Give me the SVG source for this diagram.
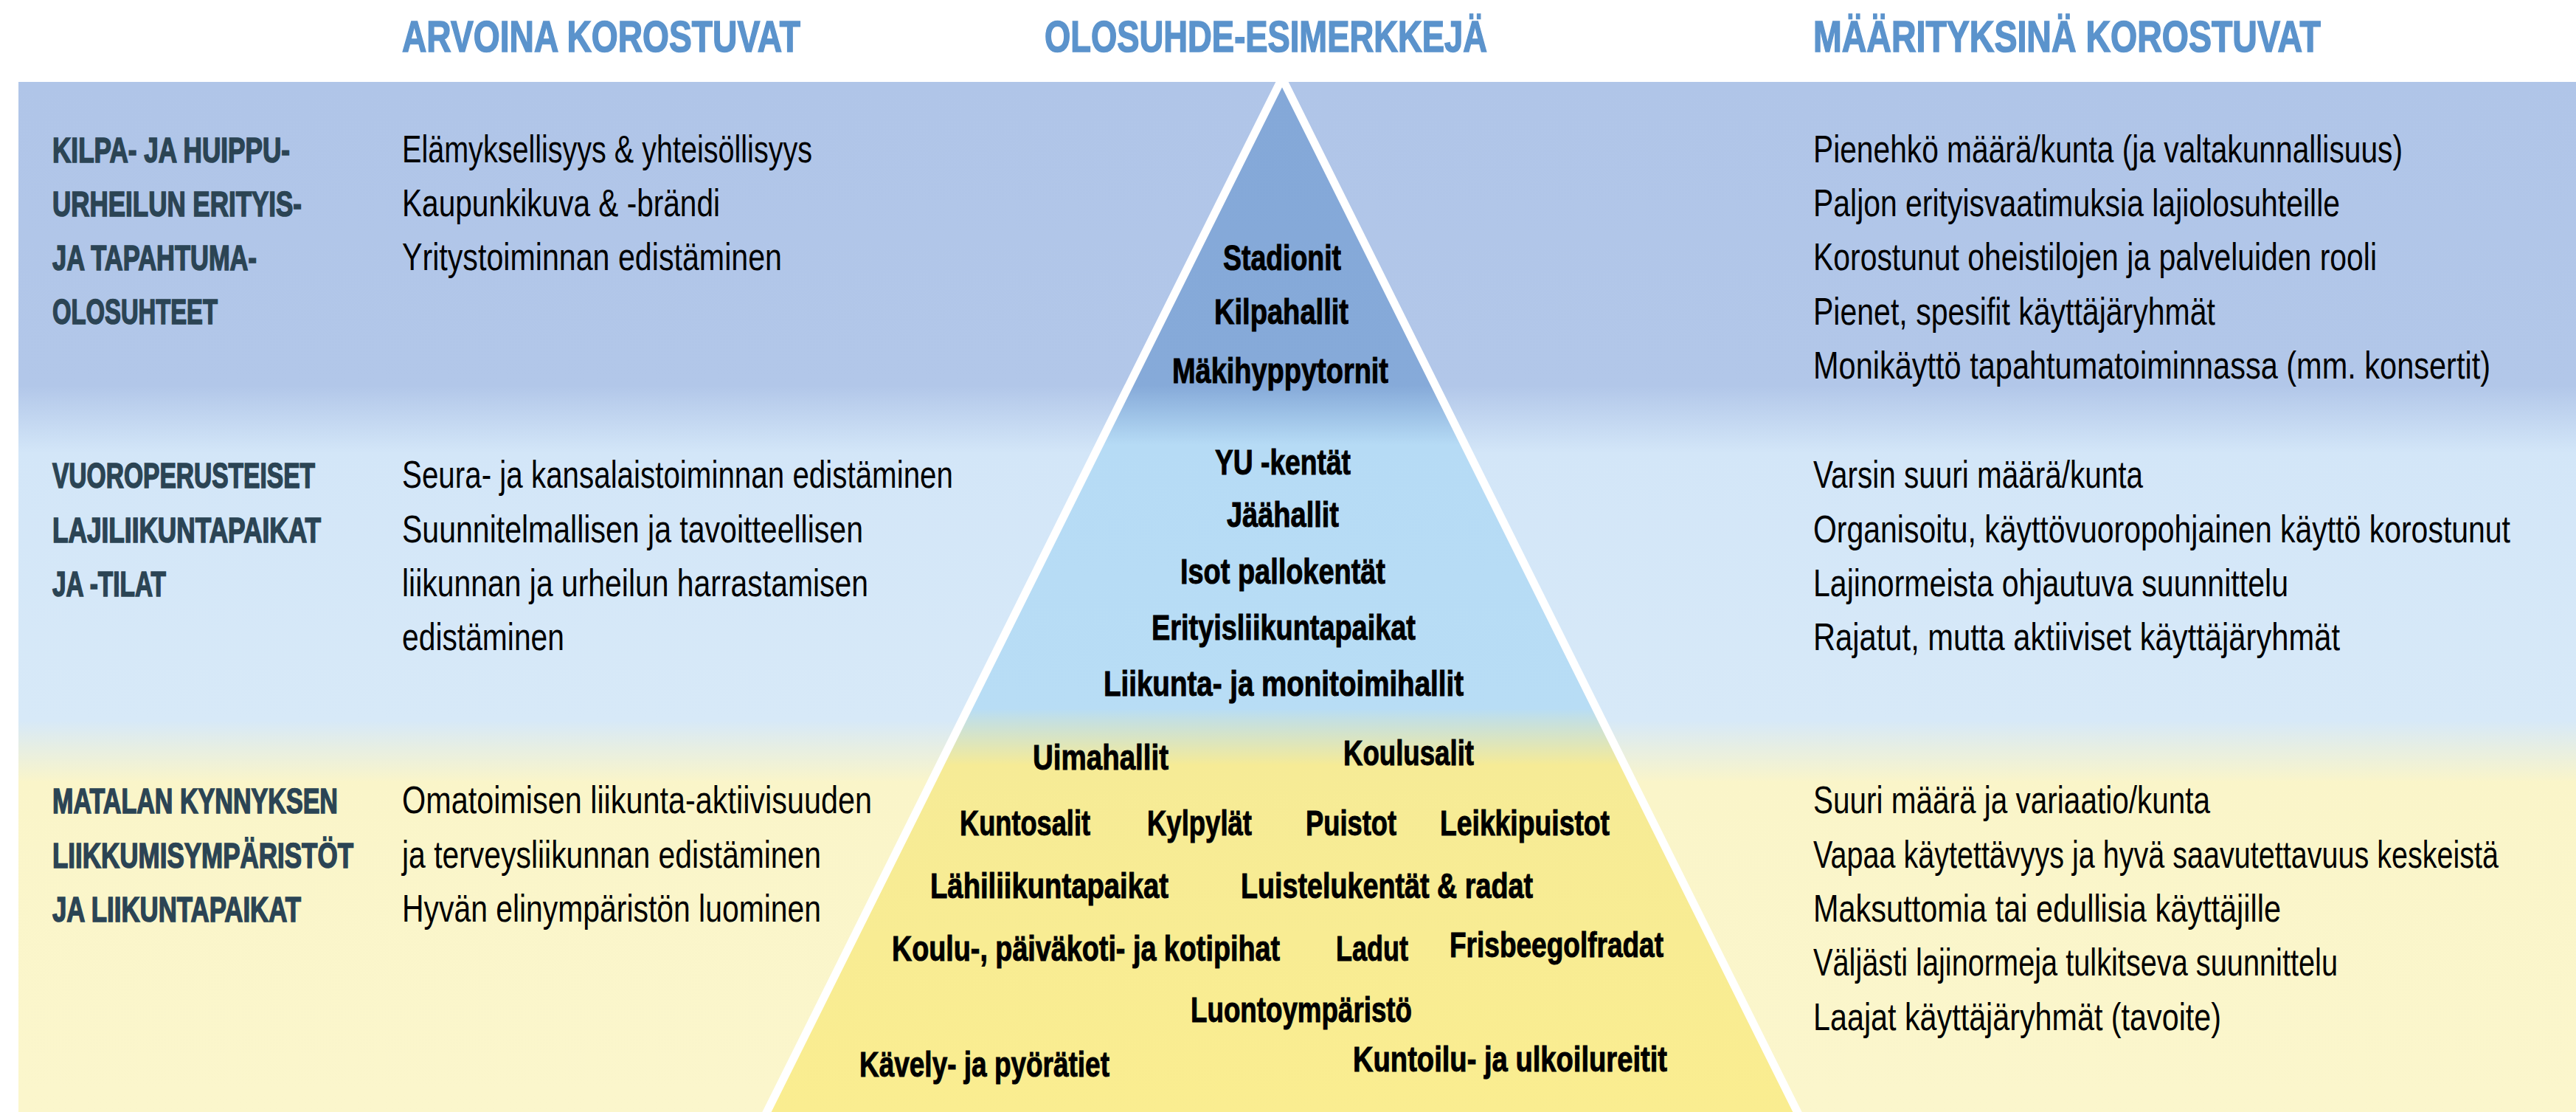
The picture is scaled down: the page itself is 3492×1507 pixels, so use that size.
<svg xmlns="http://www.w3.org/2000/svg" width="3492" height="1507" viewBox="0 0 3492 1507">
<defs>
<linearGradient id="bg" gradientUnits="userSpaceOnUse" x1="0" y1="111" x2="0" y2="1507">
<stop offset="0" stop-color="#b0c5e8"/>
<stop offset="0.295" stop-color="#b2c7e9"/>
<stop offset="0.36" stop-color="#d3e6f8"/>
<stop offset="0.62" stop-color="#d7e9f8"/>
<stop offset="0.68" stop-color="#faf5c9"/>
<stop offset="1" stop-color="#fbf6cc"/>
</linearGradient>
<linearGradient id="tri" gradientUnits="userSpaceOnUse" x1="0" y1="105" x2="0" y2="1507">
<stop offset="0" stop-color="#84a8d8"/>
<stop offset="0.298" stop-color="#86aad9"/>
<stop offset="0.355" stop-color="#b6dbf5"/>
<stop offset="0.61" stop-color="#b8ddf5"/>
<stop offset="0.665" stop-color="#f6eb96"/>
<stop offset="1" stop-color="#faed90"/>
</linearGradient>
<style>
.t{font-family:"Liberation Sans",Arial,sans-serif}
.h{font-size:45.5px;font-weight:bold;fill:#5b93cc;stroke:#5b93cc;stroke-width:1.2px}
.l{font-size:35px;font-weight:bold;fill:#2b4454;stroke:#2b4454;stroke-width:1.2px}
.r{font-size:39.5px;fill:#000}
.p{font-size:38.5px;font-weight:bold;fill:#000;stroke:#000;stroke-width:0.8px}
</style>
</defs>
<rect x="0" y="0" width="3492" height="1507" fill="#ffffff"/>
<rect id="band" x="25" y="111" width="3467" height="1396" fill="url(#bg)"/>
<g id="pyramid">
<polygon points="1738,106 2448,1530 1028,1530" fill="url(#tri)" stroke="#ffffff" stroke-width="11" stroke-linejoin="miter"/>
<rect x="1600" y="0" width="280" height="111" fill="#ffffff"/>
</g>
<g id="headers">
<text class="t h" transform="translate(545 70) scale(1 1.32)" textLength="540" lengthAdjust="spacingAndGlyphs">ARVOINA KOROSTUVAT</text>
<text class="t h" transform="translate(1416 70) scale(1 1.32)" textLength="600" lengthAdjust="spacingAndGlyphs">OLOSUHDE-ESIMERKKEJÄ</text>
<text class="t h" transform="translate(2458 70) scale(1 1.32)" textLength="688" lengthAdjust="spacingAndGlyphs">MÄÄRITYKSINÄ KOROSTUVAT</text>
</g>
<g id="level-top">
<text class="t l" transform="translate(71 220) scale(1 1.4)" textLength="322" lengthAdjust="spacingAndGlyphs">KILPA- JA HUIPPU-</text>
<text class="t l" transform="translate(71 293) scale(1 1.4)" textLength="338" lengthAdjust="spacingAndGlyphs">URHEILUN ERITYIS-</text>
<text class="t l" transform="translate(71 366) scale(1 1.4)" textLength="277" lengthAdjust="spacingAndGlyphs">JA TAPAHTUMA-</text>
<text class="t l" transform="translate(71 439) scale(1 1.4)" textLength="224" lengthAdjust="spacingAndGlyphs">OLOSUHTEET</text>
<text class="t r" transform="translate(545 220) scale(1 1.32)" textLength="556" lengthAdjust="spacingAndGlyphs">Elämyksellisyys &amp; yhteisöllisyys</text>
<text class="t r" transform="translate(545 293) scale(1 1.32)" textLength="431" lengthAdjust="spacingAndGlyphs">Kaupunkikuva &amp; -brändi</text>
<text class="t r" transform="translate(545 366) scale(1 1.32)" textLength="515" lengthAdjust="spacingAndGlyphs">Yritystoiminnan edistäminen</text>
<text class="t r" transform="translate(2458 220) scale(1 1.32)" textLength="799" lengthAdjust="spacingAndGlyphs">Pienehkö määrä/kunta (ja valtakunnallisuus)</text>
<text class="t r" transform="translate(2458 293) scale(1 1.32)" textLength="714" lengthAdjust="spacingAndGlyphs">Paljon erityisvaatimuksia lajiolosuhteille</text>
<text class="t r" transform="translate(2458 366) scale(1 1.32)" textLength="764" lengthAdjust="spacingAndGlyphs">Korostunut oheistilojen ja palveluiden rooli</text>
<text class="t r" transform="translate(2458 440) scale(1 1.32)" textLength="545" lengthAdjust="spacingAndGlyphs">Pienet, spesifit käyttäjäryhmät</text>
<text class="t r" transform="translate(2458 513) scale(1 1.32)" textLength="918" lengthAdjust="spacingAndGlyphs">Monikäyttö tapahtumatoiminnassa (mm. konsertit)</text>
<text class="t p" transform="translate(1658 366) scale(1 1.25)" textLength="160" lengthAdjust="spacingAndGlyphs">Stadionit</text>
<text class="t p" transform="translate(1646 439) scale(1 1.25)" textLength="182" lengthAdjust="spacingAndGlyphs">Kilpahallit</text>
<text class="t p" transform="translate(1589 519) scale(1 1.25)" textLength="293" lengthAdjust="spacingAndGlyphs">Mäkihyppytornit</text>
</g>
<g id="level-middle">
<text class="t l" transform="translate(71 661) scale(1 1.4)" textLength="356" lengthAdjust="spacingAndGlyphs">VUOROPERUSTEISET</text>
<text class="t l" transform="translate(71 735) scale(1 1.4)" textLength="364" lengthAdjust="spacingAndGlyphs">LAJILIIKUNTAPAIKAT</text>
<text class="t l" transform="translate(71 808) scale(1 1.4)" textLength="154" lengthAdjust="spacingAndGlyphs">JA -TILAT</text>
<text class="t r" transform="translate(545 661) scale(1 1.32)" textLength="747" lengthAdjust="spacingAndGlyphs">Seura- ja kansalaistoiminnan edistäminen</text>
<text class="t r" transform="translate(545 735) scale(1 1.32)" textLength="625" lengthAdjust="spacingAndGlyphs">Suunnitelmallisen ja tavoitteellisen</text>
<text class="t r" transform="translate(545 808) scale(1 1.32)" textLength="632" lengthAdjust="spacingAndGlyphs">liikunnan ja urheilun harrastamisen</text>
<text class="t r" transform="translate(545 881) scale(1 1.32)" textLength="220" lengthAdjust="spacingAndGlyphs">edistäminen</text>
<text class="t r" transform="translate(2458 661) scale(1 1.32)" textLength="447" lengthAdjust="spacingAndGlyphs">Varsin suuri määrä/kunta</text>
<text class="t r" transform="translate(2458 735) scale(1 1.32)" textLength="945" lengthAdjust="spacingAndGlyphs">Organisoitu, käyttövuoropohjainen käyttö korostunut</text>
<text class="t r" transform="translate(2458 808) scale(1 1.32)" textLength="644" lengthAdjust="spacingAndGlyphs">Lajinormeista ohjautuva suunnittelu</text>
<text class="t r" transform="translate(2458 881) scale(1 1.32)" textLength="714" lengthAdjust="spacingAndGlyphs">Rajatut, mutta aktiiviset käyttäjäryhmät</text>
<text class="t p" transform="translate(1647 643) scale(1 1.25)" textLength="184" lengthAdjust="spacingAndGlyphs">YU -kentät</text>
<text class="t p" transform="translate(1663 714) scale(1 1.25)" textLength="152" lengthAdjust="spacingAndGlyphs">Jäähallit</text>
<text class="t p" transform="translate(1600 791) scale(1 1.25)" textLength="278" lengthAdjust="spacingAndGlyphs">Isot pallokentät</text>
<text class="t p" transform="translate(1561 867) scale(1 1.25)" textLength="358" lengthAdjust="spacingAndGlyphs">Erityisliikuntapaikat</text>
<text class="t p" transform="translate(1496 943) scale(1 1.25)" textLength="488" lengthAdjust="spacingAndGlyphs">Liikunta- ja monitoimihallit</text>
</g>
<g id="level-bottom">
<text class="t l" transform="translate(71 1102) scale(1 1.4)" textLength="387" lengthAdjust="spacingAndGlyphs">MATALAN KYNNYKSEN</text>
<text class="t l" transform="translate(71 1176) scale(1 1.4)" textLength="408" lengthAdjust="spacingAndGlyphs">LIIKKUMISYMPÄRISTÖT</text>
<text class="t l" transform="translate(71 1249) scale(1 1.4)" textLength="337" lengthAdjust="spacingAndGlyphs">JA LIIKUNTAPAIKAT</text>
<text class="t r" transform="translate(545 1102) scale(1 1.32)" textLength="637" lengthAdjust="spacingAndGlyphs">Omatoimisen liikunta-aktiivisuuden</text>
<text class="t r" transform="translate(545 1176) scale(1 1.32)" textLength="568" lengthAdjust="spacingAndGlyphs">ja terveysliikunnan edistäminen</text>
<text class="t r" transform="translate(545 1249) scale(1 1.32)" textLength="568" lengthAdjust="spacingAndGlyphs">Hyvän elinympäristön luominen</text>
<text class="t r" transform="translate(2458 1102) scale(1 1.32)" textLength="538" lengthAdjust="spacingAndGlyphs">Suuri määrä ja variaatio/kunta</text>
<text class="t r" transform="translate(2458 1176) scale(1 1.32)" textLength="929" lengthAdjust="spacingAndGlyphs">Vapaa käytettävyys ja hyvä saavutettavuus keskeistä</text>
<text class="t r" transform="translate(2458 1249) scale(1 1.32)" textLength="634" lengthAdjust="spacingAndGlyphs">Maksuttomia tai edullisia käyttäjille</text>
<text class="t r" transform="translate(2458 1322) scale(1 1.32)" textLength="711" lengthAdjust="spacingAndGlyphs">Väljästi lajinormeja tulkitseva suunnittelu</text>
<text class="t r" transform="translate(2458 1396) scale(1 1.32)" textLength="553" lengthAdjust="spacingAndGlyphs">Laajat käyttäjäryhmät (tavoite)</text>
<text class="t p" transform="translate(1400 1043) scale(1 1.25)" textLength="184" lengthAdjust="spacingAndGlyphs">Uimahallit</text>
<text class="t p" transform="translate(1821 1037) scale(1 1.25)" textLength="177" lengthAdjust="spacingAndGlyphs">Koulusalit</text>
<text class="t p" transform="translate(1301 1132) scale(1 1.25)" textLength="177" lengthAdjust="spacingAndGlyphs">Kuntosalit</text>
<text class="t p" transform="translate(1555 1132) scale(1 1.25)" textLength="142" lengthAdjust="spacingAndGlyphs">Kylpylät</text>
<text class="t p" transform="translate(1770 1132) scale(1 1.25)" textLength="123" lengthAdjust="spacingAndGlyphs">Puistot</text>
<text class="t p" transform="translate(1952 1132) scale(1 1.25)" textLength="230" lengthAdjust="spacingAndGlyphs">Leikkipuistot</text>
<text class="t p" transform="translate(1261 1217) scale(1 1.25)" textLength="323" lengthAdjust="spacingAndGlyphs">Lähiliikuntapaikat</text>
<text class="t p" transform="translate(1682 1217) scale(1 1.25)" textLength="396" lengthAdjust="spacingAndGlyphs">Luistelukentät &amp; radat</text>
<text class="t p" transform="translate(1209 1302) scale(1 1.25)" textLength="526" lengthAdjust="spacingAndGlyphs">Koulu-, päiväkoti- ja kotipihat</text>
<text class="t p" transform="translate(1811 1302) scale(1 1.25)" textLength="98" lengthAdjust="spacingAndGlyphs">Ladut</text>
<text class="t p" transform="translate(1965 1297) scale(1 1.25)" textLength="290" lengthAdjust="spacingAndGlyphs">Frisbeegolfradat</text>
<text class="t p" transform="translate(1614 1385) scale(1 1.25)" textLength="300" lengthAdjust="spacingAndGlyphs">Luontoympäristö</text>
<text class="t p" transform="translate(1165 1459) scale(1 1.25)" textLength="339" lengthAdjust="spacingAndGlyphs">Kävely- ja pyörätiet</text>
<text class="t p" transform="translate(1834 1452) scale(1 1.25)" textLength="426" lengthAdjust="spacingAndGlyphs">Kuntoilu- ja ulkoilureitit</text>
</g>
</svg>
